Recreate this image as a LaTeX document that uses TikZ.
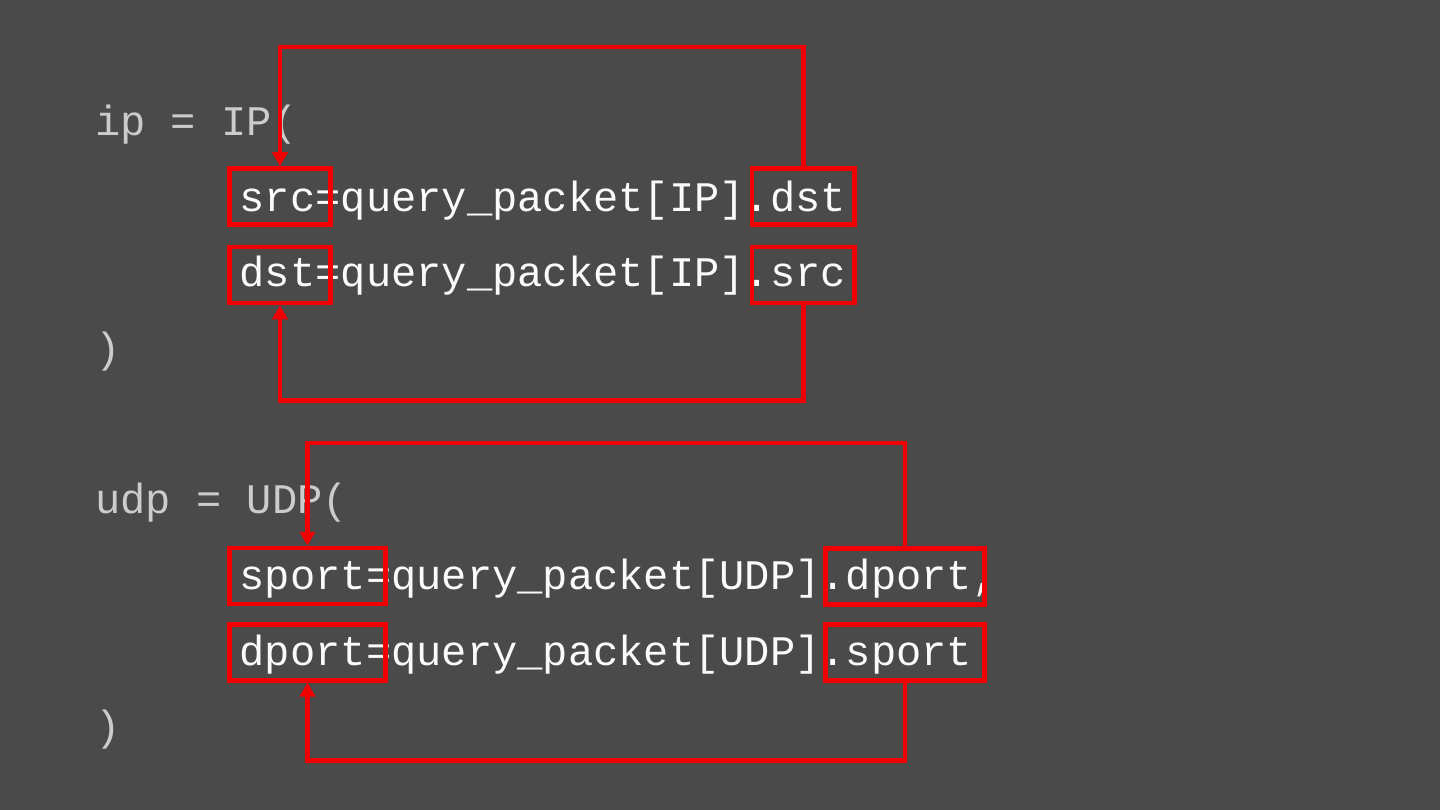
\documentclass[tikz,border=0pt]{standalone}
\usepackage{fontspec}
\setmonofont{Liberation Mono}
\usetikzlibrary{arrows.meta}
\definecolor{bg}{RGB}{74,74,74}
\definecolor{hl}{RGB}{240,0,0}
\definecolor{dim}{RGB}{204,204,204}
\definecolor{bright}{RGB}{250,250,250}
\begin{document}
\begin{tikzpicture}[x=1pt,y=-1pt,
  code/.style={anchor=base west, inner sep=0pt, font=\ttfamily\fontsize{42.1}{50}\selectfont},
  outertext/.style={code, text=dim},
  innertext/.style={code, text=bright},
  hlbox/.style={draw=hl, line width=4.5pt, inner sep=0pt, minimum height=56pt},
  conn/.style={draw=hl, line width=4.5pt, -{Triangle[width=15pt,length=14pt]}}]
\fill[bg] (0,0) rectangle (1440,810);
\useasboundingbox (0,0) rectangle (1440,810);
% code text
\node[outertext] (l1) at (95,136) {ip = IP(};
\node[innertext] (l2) at (239.5,212) {src=query\_packet[IP].dst};
\node[innertext] (l3) at (239.5,287) {dst=query\_packet[IP].src};
\node[outertext] (l4) at (95,362) {)};
\node[outertext] (l5) at (95,513) {udp = UDP(};
\node[innertext] (l6) at (239.5,589) {sport=query\_packet[UDP].dport,};
\node[innertext] (l7) at (239.5,665) {dport=query\_packet[UDP].sport};
\node[outertext] (l8) at (95,740) {)};
% highlight boxes
\node[hlbox, minimum width=101pt] (b1) at (280,196.5) {};
\node[hlbox, minimum width=102.5pt] (b2) at (803.25,196.5) {};
\node[hlbox, minimum width=101pt] (b3) at (280,275) {};
\node[hlbox, minimum width=102.5pt] (b4) at (803.25,275) {};
\node[hlbox, minimum width=156pt] (b5) at (307.5,576) {};
\node[hlbox, minimum width=159pt] (b6) at (905,576.5) {};
\node[hlbox, minimum width=156pt] (b7) at (307.5,652.25) {};
\node[hlbox, minimum width=159pt] (b8) at (905,652.5) {};
% routing levels
\coordinate (t1) at (0,47);
\coordinate (t2) at (0,400.5);
\coordinate (t3) at (0,443);
\coordinate (t4) at (0,760.5);
% connectors
\draw[conn] (b2.north) -- (b2.north |- t1) -| (b1.north);
\draw[conn] (b4.south) -- (b4.south |- t2) -| (b3.south);
\draw[conn] (b6.north) -- (b6.north |- t3) -| (b5.north);
\draw[conn] (b8.south) -- (b8.south |- t4) -| (b7.south);
\end{tikzpicture}
\end{document}
